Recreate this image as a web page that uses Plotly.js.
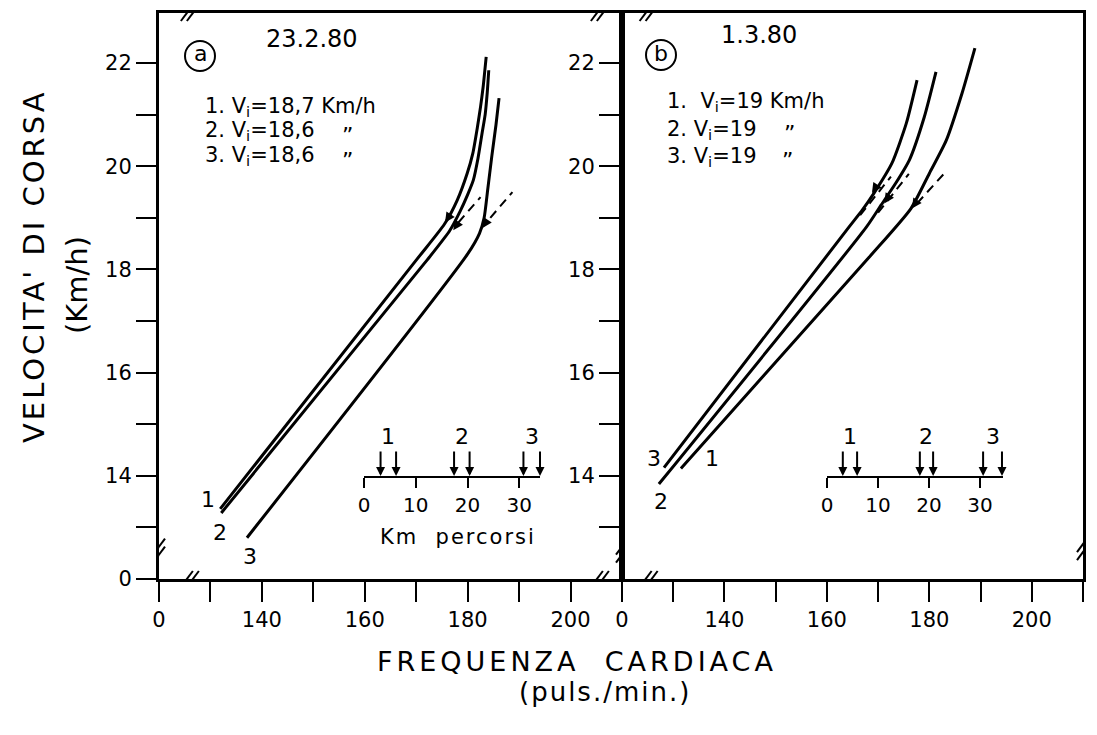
<!DOCTYPE html>
<html>
<head>
<meta charset="utf-8">
<script src="https://cdn.plot.ly/plotly-3.0.1.min.js"></script>
<style>html,body{margin:0;padding:0;background:#fff;}#chart{width:1097px;height:735px;}</style>
</head>
<body>
<div id="chart"></div>
<script>
// ---------- DATA ----------
// Heart-rate axis ticks (break: first tick labelled 0)
const hrTicks = [120,130,140,150,160,170,180,190,200,210];
const hrText  = ['0','','140','','160','','180','','200',''];
// Speed axis ticks
const vTicksA = [12,13,14,15,16,17,18,19,20,21,22];
const vTextA  = ['0','','14','','16','','18','','20','','22'];
const vTicksB = [13,14,15,16,17,18,19,20,21,22];
const vTextB  = ['','14','','16','','18','','20','','22'];
const kmTicks = [0,10,20,30];

// Panel a (23.2.80): heart rate (puls./min) vs speed (km/h)
const a1HR = [131.9,170.0,175.5,178.0,179.9,181.0,181.9,182.5,183.0,183.6];
const a1V  = [13.36,18.18,18.88,19.35,19.86,20.25,20.76,21.15,21.53,22.12];
const a2HR = [132.1,172.1,176.5,178.5,180.0,181.1,182.0,182.8,183.4,183.8,184.1];
const a2V  = [13.28,18.18,18.75,19.12,19.45,19.73,20.15,20.64,21.00,21.42,21.86];
const a3HR = [137.1,180.0,182.3,183.2,183.9,184.7,185.5,186.1];
const a3V  = [12.80,18.30,18.70,19.00,19.55,20.20,20.80,21.32];
// dashed linear extrapolations, panel a
const aDash12HR = [178.2,182.5];
const aDash12V  = [18.91,19.40];
const aDash3HR  = [184.4,188.7];
const aDash3V   = [19.00,19.50];
// threshold arrows on the curves, panel a
const aKneeHR = [175.6,177.2,182.8];
const aKneeV  = [18.91,18.76,18.80];

// Panel b (1.3.80)
const b1HR = [131.5,168.2,176.4,180.0,183.3,186.4,188.9];
const b1V  = [14.14,18.23,19.18,19.86,20.50,21.42,22.29];
const b2HR = [127.2,167.7,170.6,173.3,176.1,179.0,181.3];
const b2V  = [13.84,18.82,19.25,19.65,20.12,20.95,21.83];
const b3HR = [128.2,164.3,166.9,169.2,172.7,175.5,177.6];
const b3V  = [14.16,18.82,19.15,19.48,20.06,20.83,21.67];
const bDash3HR = [166.5,172.5];
const bDash3V  = [19.05,19.80];
const bDash2HR = [170.0,176.0];
const bDash2V  = [19.10,19.85];
const bDash1HR = [177.6,183.1];
const bDash1V  = [19.28,19.88];
const bKneeHR = [168.8,171.2,176.6];
const bKneeV  = [19.48,19.28,19.18];

// Km percorsi insets: arrows (km) for tests 1,2,3
const aKmArrows = [3.2,6.2,17.4,20.4,30.8,34.0];
const bKmArrows = [3.1,5.9,18.2,20.8,30.6,34.3];
const testLabels = ['1','2','3'];

// ---------- STYLE ----------
const FONT = 'DejaVu Sans, Liberation Sans, sans-serif';
const W = 1097, H = 735;
const px = v => v / W;
const py = v => 1 - v / H;

function curve(x, y, xa, ya) {
  return {x, y, xaxis: xa, yaxis: ya, type: 'scatter', mode: 'lines',
    line: {color: '#000', width: 3, shape: 'spline', smoothing: 0.6},
    hoverinfo: 'skip', showlegend: false};
}
function dashed(x, y, xa, ya) {
  return {x, y, xaxis: xa, yaxis: ya, type: 'scatter', mode: 'lines',
    line: {color: '#000', width: 2, dash: '9px,6px'}, hoverinfo: 'skip', showlegend: false};
}
function dummy(xa, ya) {
  return {x: [0], y: [0], xaxis: xa, yaxis: ya, type: 'scatter', mode: 'markers',
    marker: {opacity: 0}, hoverinfo: 'skip', showlegend: false};
}

const data = [
  curve(a1HR, a1V, 'x', 'y'), curve(a2HR, a2V, 'x', 'y'), curve(a3HR, a3V, 'x', 'y'),
  dashed(aDash12HR, aDash12V, 'x', 'y'), dashed(aDash3HR, aDash3V, 'x', 'y'),
  curve(b1HR, b1V, 'x2', 'y2'), curve(b2HR, b2V, 'x2', 'y2'), curve(b3HR, b3V, 'x2', 'y2'),
  dashed(bDash3HR, bDash3V, 'x2', 'y2'), dashed(bDash2HR, bDash2V, 'x2', 'y2'), dashed(bDash1HR, bDash1V, 'x2', 'y2'),
  dummy('x3', 'y3'), dummy('x4', 'y4')
];

const yDom = [py(579), py(13)];
const baseAxis = {
  showline: true, linecolor: '#000', linewidth: 3, mirror: true,
  ticks: 'outside', ticklen: 20, tickwidth: 2, tickcolor: '#000',
  showgrid: false, zeroline: false, fixedrange: true,
  tickfont: {family: FONT, size: 21, color: '#000'}
};
const insetX = {
  showline: true, linecolor: '#000', linewidth: 2, mirror: false,
  ticks: 'outside', ticklen: 10, tickwidth: 2, tickcolor: '#000',
  showgrid: false, zeroline: false, fixedrange: true,
  tickvals: kmTicks, ticktext: kmTicks.map(String),
  tickfont: {family: FONT, size: 20, color: '#000'}
};
const insetY = {domain: [py(476), py(420)], range: [0, 1], visible: false, fixedrange: true};

const layout = {
  width: W, height: H,
  margin: {l: 0, r: 0, t: 0, b: 0},
  paper_bgcolor: '#fff', plot_bgcolor: 'rgba(0,0,0,0)',
  showlegend: false,
  font: {family: FONT, color: '#000'},
  xaxis: Object.assign({}, baseAxis, {domain: [px(159), px(622)], range: [120, 210], anchor: 'y',
    tickvals: hrTicks, ticktext: hrText}),
  yaxis: Object.assign({}, baseAxis, {domain: yDom, range: [12, 22.97], anchor: 'x',
    tickvals: vTicksA, ticktext: vTextA}),
  xaxis2: Object.assign({}, baseAxis, {domain: [px(622), px(1083)], range: [120, 210], anchor: 'y2',
    tickvals: hrTicks, ticktext: hrText}),
  yaxis2: Object.assign({}, baseAxis, {domain: yDom, range: [12, 22.97], anchor: 'x2',
    tickvals: vTicksB, ticktext: vTextB}),
  xaxis3: Object.assign({}, insetX, {domain: [px(364), px(540)], range: [0, 34], anchor: 'y3'}),
  yaxis3: Object.assign({}, insetY, {anchor: 'x3'}),
  xaxis4: Object.assign({}, insetX, {domain: [px(827), px(1003)], range: [0, 34.5], anchor: 'y4'}),
  yaxis4: Object.assign({}, insetY, {anchor: 'x4'}),
  shapes: [],
  annotations: []
};

// break marks "//"
function slashPair(xref, yref, xa, ya, horizontal) {
  const offs = horizontal ? [[-3, 0], [3, 0]] : [[0, -4], [0, 4]];
  offs.forEach(o => {
    layout.shapes.push({type: 'line', xref, yref, xsizemode: 'pixel', ysizemode: 'pixel',
      xanchor: xa, yanchor: ya, x0: o[0] - 6, x1: o[0] + 6, y0: o[1] - 8, y1: o[1] + 8,
      line: {color: '#000', width: 2}, layer: 'above'});
  });
}
[126, 205.7].forEach(v => { slashPair('x', 'y', v, 12, true); slashPair('x', 'y', v, 22.97, true); });
slashPair('x2', 'y2', 125.2, 12, true); slashPair('x2', 'y2', 125.2, 22.97, true);
slashPair('x', 'y', 120, 12.55, false);
slashPair('x', 'y', 210, 12.55, false);
slashPair('x2', 'y2', 210, 12.6, false);

// circled panel letters
[[185, 215, 41, 71], [646, 676, 40, 70]].forEach(c => {
  layout.shapes.push({type: 'circle', xref: 'paper', yref: 'paper',
    x0: px(c[0]), x1: px(c[1]), y0: py(c[3]), y1: py(c[2]), line: {color: '#000', width: 2}});
});

function txt(text, x, y, size, opts) {
  layout.annotations.push(Object.assign({text, x: px(x), y: py(y), xref: 'paper', yref: 'paper',
    xanchor: 'center', yanchor: 'middle', showarrow: false,
    font: {family: FONT, size, color: '#000'}}, opts || {}));
}
txt('a', 200, 54, 22);
txt('b', 661, 53, 22);
txt('23.2.80', 312, 39, 24);
txt('1.3.80', 759, 35, 24);
txt('1. V<sub>i</sub>=18,7 Km/h', 203, 107, 21, {xanchor: 'left'});
txt('2. V<sub>i</sub>=18,6', 203, 131, 21, {xanchor: 'left'});
txt('3. V<sub>i</sub>=18,6', 203, 156, 21, {xanchor: 'left'});
txt('\u201D', 347, 135, 22);
txt('\u201D', 347, 160, 22);
txt('1.  V<sub>i</sub>=19 Km/h', 665, 102, 21, {xanchor: 'left'});
txt('2. V<sub>i</sub>=19', 665, 130, 21, {xanchor: 'left'});
txt('3. V<sub>i</sub>=19', 665, 157, 21, {xanchor: 'left'});
txt('\u201D', 789, 133, 22);
txt('\u201D', 787, 160, 22);
txt("VELOCITA' DI CORSA", 34, 266, 29, {textangle: -90});
txt('(Km/h)', 77, 285, 29, {textangle: -90});
txt('FREQUENZA\u00A0\u00A0CARDIACA', 577, 661, 27);
txt('(puls./min.)', 605, 692, 26);
txt('Km\u00A0\u00A0percorsi', 458, 537, 21);

// curve number labels
function lab(t, x, y, xr, yr) {
  layout.annotations.push({text: t, x, y, xref: xr, yref: yr, showarrow: false,
    xanchor: 'center', yanchor: 'middle', font: {family: FONT, size: 22, color: '#000'}});
}
lab('1', 129.5, 13.55, 'x', 'y'); lab('2', 131.9, 12.9, 'x', 'y'); lab('3', 137.7, 12.43, 'x', 'y');
lab('3', 126.25, 14.33, 'x2', 'y2'); lab('2', 127.6, 13.51, 'x2', 'y2'); lab('1', 137.6, 14.33, 'x2', 'y2');

// threshold arrowheads on curves
function knees(xs, ys, xr, yr) {
  xs.forEach((x, i) => layout.annotations.push({text: '', x, y: ys[i], xref: xr, yref: yr,
    showarrow: true, ax: 6, ay: -9, arrowhead: 2, arrowsize: 1, arrowwidth: 2, arrowcolor: '#000', standoff: 0}));
}
knees(aKneeHR, aKneeV, 'x', 'y');
knees(bKneeHR, bKneeV, 'x2', 'y2');

// inset arrows and labels
function inset(arr, xr, yr) {
  arr.forEach(k => layout.annotations.push({text: '', x: k, y: 0, xref: xr, yref: yr,
    showarrow: true, ax: 0, ay: -26, arrowhead: 2, arrowsize: 0.9, arrowwidth: 2, arrowcolor: '#000', standoff: 0}));
  testLabels.forEach((t, i) => layout.annotations.push({text: t, x: (arr[2 * i] + arr[2 * i + 1]) / 2,
    y: py(437), xref: xr, yref: 'paper', xanchor: 'center', yanchor: 'middle', showarrow: false,
    font: {family: FONT, size: 22, color: '#000'}}));
}
inset(aKmArrows, 'x3', 'y3');
inset(bKmArrows, 'x4', 'y4');

Plotly.newPlot('chart', data, layout, {staticPlot: true, displayModeBar: false}).then(gd => {
  gd.querySelectorAll('.annotation-text').forEach(t => {
    const s = t.textContent;
    if (s.indexOf('VELOCITA') === 0) t.style.letterSpacing = '3px';
    if (s.indexOf('FREQUENZA') === 0) t.style.letterSpacing = '4px';
    if (s.indexOf('(puls') === 0) t.style.letterSpacing = '2px';
    if (s.indexOf('Km') === 0 && s.indexOf('percorsi') > 0) t.style.letterSpacing = '2px';
  });
});
</script>
</body>
</html>
